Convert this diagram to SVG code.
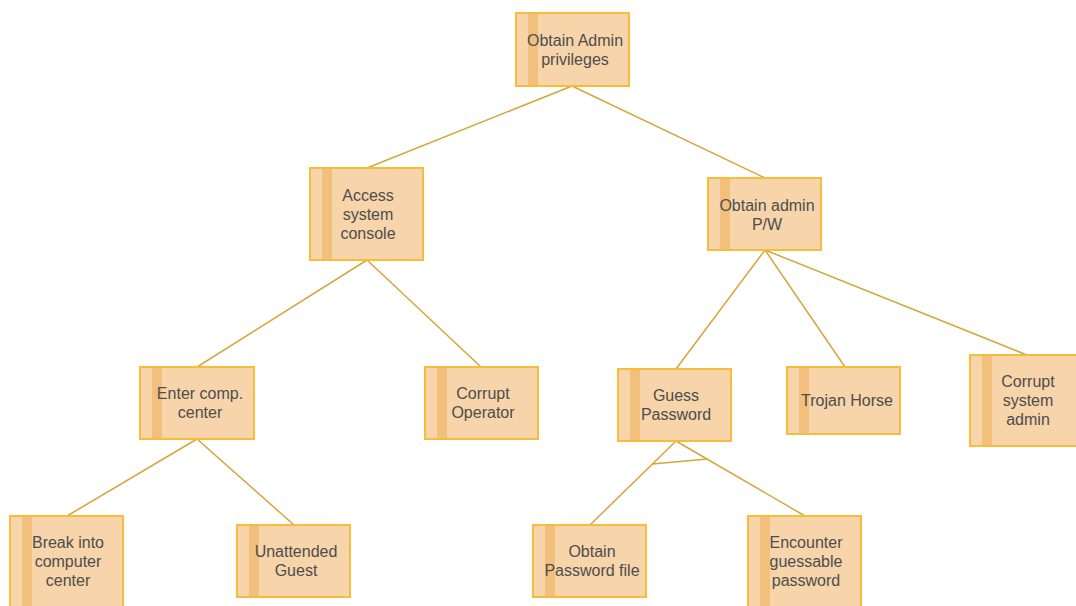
<svg xmlns="http://www.w3.org/2000/svg" width="1076" height="606" viewBox="0 0 1076 606">
<style>
.box{fill:#f7d4aa;stroke:#f5bd3a;stroke-width:2}
.strip{fill:#f2bf7c}
.t{font-family:"Liberation Sans",Arial,sans-serif;font-size:16px;fill:#4d4d4d;text-anchor:middle}
.c{stroke:#d4a63a;stroke-width:1.5;fill:none}
</style>
<rect width="1076" height="606" fill="#ffffff"/>
<g id="connectors">
<line class="c" x1="572" y1="86" x2="367" y2="168"/>
<line class="c" x1="572" y1="86" x2="765" y2="178"/>
<line class="c" x1="367" y1="260" x2="197" y2="367"/>
<line class="c" x1="367" y1="260" x2="481" y2="367"/>
<line class="c" x1="765" y1="250" x2="676" y2="369"/>
<line class="c" x1="765" y1="250" x2="845" y2="367"/>
<line class="c" x1="765" y1="250" x2="1027" y2="355"/>
<line class="c" x1="197" y1="439" x2="67" y2="516"/>
<line class="c" x1="197" y1="439" x2="294" y2="525"/>
<line class="c" x1="676" y1="441" x2="590" y2="525"/>
<line class="c" x1="676" y1="441" x2="805" y2="516"/>
<line class="c" x1="652.5" y1="464" x2="707" y2="459"/>
</g>
<g id="n1"><rect class="box" x="516" y="13" width="113" height="73"/><rect class="strip" x="528" y="14" width="10" height="71"/><text class="t" x="575" y="46">Obtain Admin</text><text class="t" x="575" y="65">privileges</text></g>
<g id="n2"><rect class="box" x="310" y="168" width="113" height="92"/><rect class="strip" x="322" y="169" width="10" height="90"/><text class="t" x="368" y="201">Access</text><text class="t" x="368" y="220">system</text><text class="t" x="368" y="239">console</text></g>
<g id="n3"><rect class="box" x="708" y="178" width="113" height="72"/><rect class="strip" x="720" y="179" width="10" height="70"/><text class="t" x="767" y="211">Obtain admin</text><text class="t" x="767" y="230">P/W</text></g>
<g id="n4"><rect class="box" x="140" y="367" width="114" height="72"/><rect class="strip" x="152" y="368" width="10" height="70"/><text class="t" x="200" y="399">Enter comp.</text><text class="t" x="200" y="418">center</text></g>
<g id="n5"><rect class="box" x="425" y="367" width="113" height="72"/><rect class="strip" x="437" y="368" width="10" height="70"/><text class="t" x="483" y="399">Corrupt</text><text class="t" x="483" y="418">Operator</text></g>
<g id="n6"><rect class="box" x="618" y="369" width="113" height="72"/><rect class="strip" x="630" y="370" width="10" height="70"/><text class="t" x="676" y="401">Guess</text><text class="t" x="676" y="420">Password</text></g>
<g id="n7"><rect class="box" x="787" y="367" width="113" height="67"/><rect class="strip" x="799" y="368" width="10" height="65"/><text class="t" x="847" y="406">Trojan Horse</text></g>
<g id="n8"><rect class="box" x="970" y="355" width="113" height="91"/><rect class="strip" x="982" y="356" width="10" height="89"/><text class="t" x="1028" y="387">Corrupt</text><text class="t" x="1028" y="406">system</text><text class="t" x="1028" y="425">admin</text></g>
<g id="n9"><rect class="box" x="10" y="516" width="113" height="92"/><rect class="strip" x="22" y="517" width="10" height="90"/><text class="t" x="68" y="548">Break into</text><text class="t" x="68" y="567">computer</text><text class="t" x="68" y="586">center</text></g>
<g id="n10"><rect class="box" x="237" y="525" width="113" height="72"/><rect class="strip" x="249" y="526" width="10" height="70"/><text class="t" x="296" y="557">Unattended</text><text class="t" x="296" y="576">Guest</text></g>
<g id="n11"><rect class="box" x="533" y="525" width="113" height="72"/><rect class="strip" x="545" y="526" width="10" height="70"/><text class="t" x="592" y="557">Obtain</text><text class="t" x="592" y="576">Password file</text></g>
<g id="n12"><rect class="box" x="748" y="516" width="113" height="92"/><rect class="strip" x="760" y="517" width="10" height="90"/><text class="t" x="806" y="548">Encounter</text><text class="t" x="806" y="567">guessable</text><text class="t" x="806" y="586">password</text></g>
</svg>
